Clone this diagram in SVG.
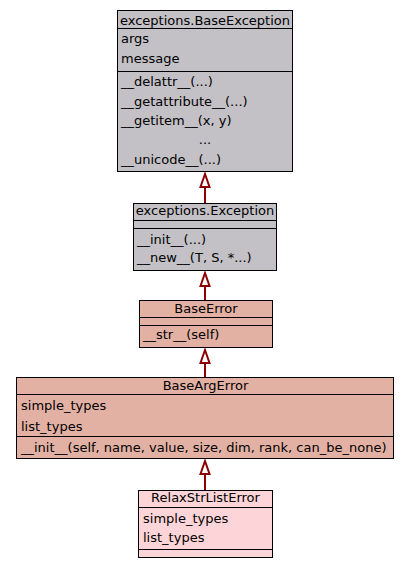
<svg xmlns="http://www.w3.org/2000/svg" width="409" height="568" viewBox="0 0 409 568">
<style>
text{font-family:"DejaVu Sans","Liberation Sans",sans-serif;font-size:13px;fill:#000}
.t{text-anchor:middle}
.box{stroke:#000;stroke-width:1}
.g{fill:#c3c1c6}
.s{fill:#e3b1a4}
.p{fill:#fdd5d8}
.ln{stroke:#000;stroke-width:1}
.e{stroke:#8b0000;stroke-width:2;fill:none}
.ah{stroke:#8b0000;stroke-width:2;fill:#fff}
</style>
<rect width="409" height="568" fill="#fff"/>
<g id="connectors">
<line class="e" x1="205" y1="203" x2="205" y2="187"/>
<polygon class="ah" points="205,174 200.5,187 209.5,187"/>
<line class="e" x1="205" y1="300" x2="205" y2="286"/>
<polygon class="ah" points="205,273 200.5,286 209.5,286"/>
<line class="e" x1="205" y1="377" x2="205" y2="363"/>
<polygon class="ah" points="205,350 200.5,363 209.5,363"/>
<line class="e" x1="205" y1="490" x2="205" y2="474"/>
<polygon class="ah" points="205,461 200.5,474 209.5,474"/>
</g>
<g id="BaseException">
<rect class="box g" x="117.5" y="10.5" width="175" height="161"/>
<line class="ln" x1="117.5" y1="28.5" x2="292.5" y2="28.5"/>
<line class="ln" x1="117.5" y1="71.5" x2="292.5" y2="71.5"/>
<text class="t" x="205" y="24.5">exceptions.BaseException</text>
<text x="121" y="43">args</text>
<text x="121" y="63">message</text>
<text x="121" y="86">__delattr__(...)</text>
<text x="121" y="105.5">__getattribute__(...)</text>
<text x="121" y="124.5">__getitem__(x, y)</text>
<text class="t" x="205" y="144">...</text>
<text x="121" y="163.5">__unicode__(...)</text>
</g>
<g id="Exception">
<rect class="box g" x="133.5" y="203.5" width="143" height="67"/>
<line class="ln" x1="133.5" y1="220.5" x2="276.5" y2="220.5"/>
<line class="ln" x1="133.5" y1="228.5" x2="276.5" y2="228.5"/>
<text class="t" x="205" y="215">exceptions.Exception</text>
<text x="137" y="243.5">__init__(...)</text>
<text x="137" y="262">__new__(T, S, *...)</text>
</g>
<g id="BaseError">
<rect class="box s" x="139.5" y="300.5" width="133" height="47"/>
<line class="ln" x1="139.5" y1="317.5" x2="272.5" y2="317.5"/>
<line class="ln" x1="139.5" y1="325.5" x2="272.5" y2="325.5"/>
<text class="t" x="206" y="312.5">BaseError</text>
<text x="143" y="339">__str__(self)</text>
</g>
<g id="BaseArgError">
<rect class="box s" x="16.5" y="377.5" width="377" height="81"/>
<line class="ln" x1="16.5" y1="394.5" x2="393.5" y2="394.5"/>
<line class="ln" x1="16.5" y1="436.5" x2="393.5" y2="436.5"/>
<text class="t" x="205.5" y="389.5">BaseArgError</text>
<text x="21" y="410">simple_types</text>
<text x="21" y="431">list_types</text>
<text x="21" y="451.5">__init__(self, name, value, size, dim, rank, can_be_none)</text>
</g>
<g id="RelaxStrListError">
<rect class="box p" x="138.5" y="490.5" width="134" height="67"/>
<line class="ln" x1="138.5" y1="507.5" x2="272.5" y2="507.5"/>
<line class="ln" x1="138.5" y1="549.5" x2="272.5" y2="549.5"/>
<text class="t" x="205.5" y="502">RelaxStrListError</text>
<text x="143" y="522.5">simple_types</text>
<text x="143" y="542">list_types</text>
</g>
</svg>
